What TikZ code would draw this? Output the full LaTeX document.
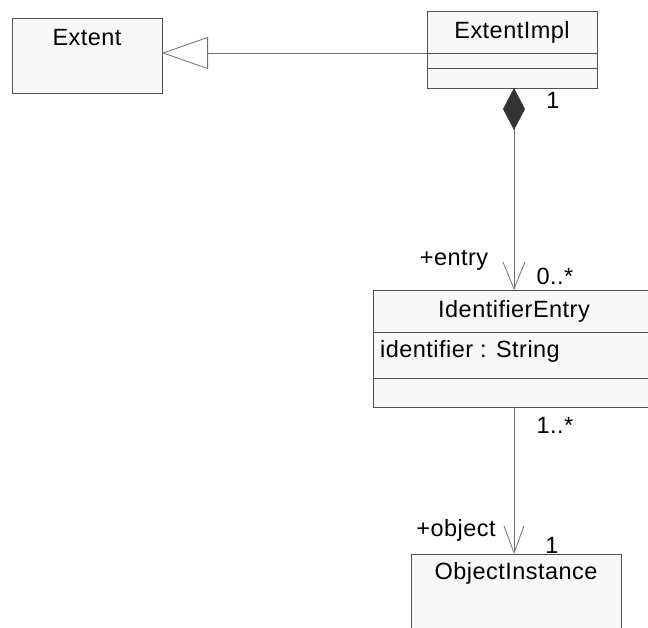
\documentclass[tikz,border=0pt]{standalone}
\usepackage{fontspec}
\setmainfont{Liberation Sans}[LetterSpace=2]
\usetikzlibrary{arrows.meta}
\definecolor{boxfill}{HTML}{F8F8F8}
\definecolor{boxline}{HTML}{505050}
\definecolor{connline}{HTML}{707070}
\definecolor{diafill}{HTML}{333333}
\begin{document}
\begin{tikzpicture}[x=1pt,y=-1pt,
  cls/.style={draw=boxline, fill=boxfill, line width=0.9pt, anchor=north west, inner sep=0pt, outer sep=0pt},
  divline/.style={draw=boxline, line width=0.9pt},
  txt/.style={font=\fontsize{23.5}{27}\selectfont, inner sep=0pt},
  conn/.style={draw=connline, line width=0.8pt}]
\useasboundingbox (0,0) rectangle (648,628);
\clip (0,0) rectangle (648,628);

% Extent
\node[cls, minimum width=150pt, minimum height=75pt] (extent) at (12,18) {};
\node[txt] (extentT) at (87,38) {Extent};

% ExtentImpl
\node[cls, minimum width=170pt, minimum height=77pt] (impl) at (427,11) {};
\node[txt] (implT) at (512,32) {ExtentImpl};
\draw[divline] (427,53) -- (597,53);
\draw[divline] (427,68) -- (597,68);

% IdentifierEntry
\node[cls, minimum width=282pt, minimum height=117pt] (ident) at (373,290) {};
\node[txt] (identT) at (514,311) {IdentifierEntry};
\draw[divline] (373,332) -- (655,332);
\draw[divline] (373,378) -- (655,378);
\node[txt, anchor=west] (identA) at (380,351) {identifier : String};

% ObjectInstance
\node[cls, minimum width=210pt, minimum height=100pt] (obj) at (411,554) {};
\node[txt] (objT) at (516,573) {ObjectInstance};

% Generalization
\draw[conn, -{Triangle[open, length=46pt, width=32pt, fill=white]}]
  ([yshift=-3.5pt]impl.west) -- ([yshift=2.5pt]extent.east);

% Composition / navigable association
\draw[conn, {Diamond[length=42pt, width=22pt, fill=diafill, color=diafill]}-{Straight Barb[length=27pt, width=22pt]}]
  (impl.south -| ident.north) -- (ident.north);

% Association
\draw[conn, -{Straight Barb[length=27pt, width=20pt]}]
  (ident.south) -- (ident.south |- obj.north);

% Labels
\node[txt] (m1) at (553,100) {1};
\node[txt] (rEntry) at (454,260) {+entry};
\node[txt] (m2) at (555,276) {0..*};
\node[txt] (m3) at (555,425) {1..*};
\node[txt] (rObj) at (456,530) {+object};
\node[txt] (m4) at (552,545) {1};
\end{tikzpicture}
\end{document}
